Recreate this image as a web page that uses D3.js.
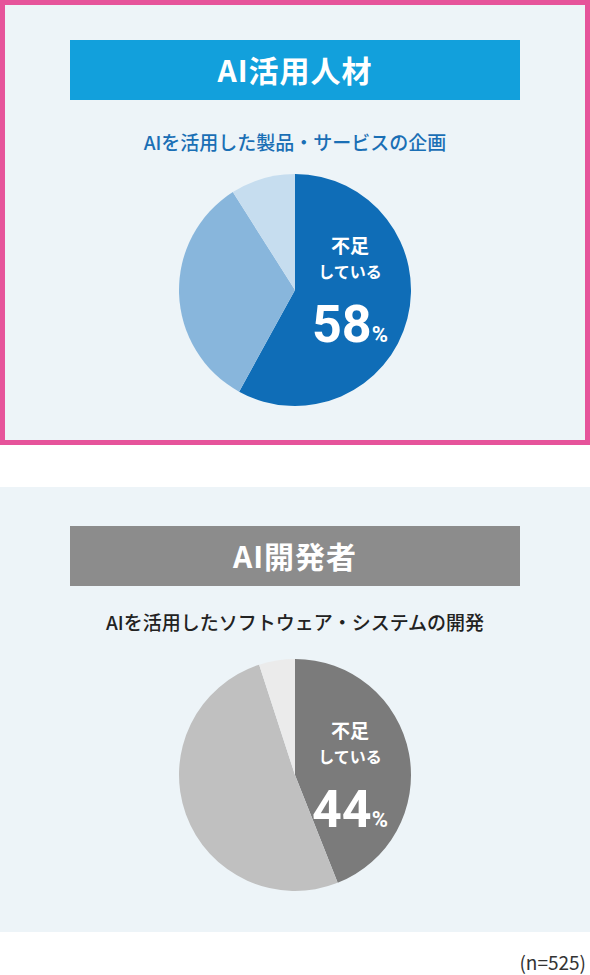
<!DOCTYPE html>
<html><head><meta charset="utf-8">
<script src="https://cdn.jsdelivr.net/npm/d3@7"></script>
<style>body{margin:0;background:#fff}</style>
</head><body>
<svg width="590" height="975"></svg>
<script>
const titles = ['AI活用人材', 'AI開発者']
const subtitles = ['AIを活用した製品・サービスの企画', 'AIを活用したソフトウェア・システムの開発']
const shares1 = [58, 33, 9]
const shares2 = [44, 51, 5]
const note = '(n=525)'

const panels = [
	{ y: 0, title: titles[0], sub: subtitles[0], values: shares1, bar: '#12a0dc', subColor: '#1a6fb5',
	  colors: ['#0f6db7', '#88b6dc', '#c6ddef'], border: '#e6549b' },
	{ y: 487, title: titles[1], sub: subtitles[1], values: shares2, bar: '#8c8c8c', subColor: '#222',
	  colors: ['#7b7b7b', '#c0c0c0', '#ebebeb'], border: null }
]

const svg = d3.select('svg')
const font = "'Noto Sans CJK JP', sans-serif"
const pie = d3.pie().sort(null).value(d => d)
const arc = d3.arc().innerRadius(0).outerRadius(116)

panels.forEach((p, i) => {
	const g = svg.append('g').attr('transform', `translate(0,${p.y})`)
	if (p.border) {
		g.append('rect').attr('x', 2.5).attr('y', 2.5).attr('width', 585).attr('height', 440)
			.attr('fill', '#edf4f8').attr('stroke', p.border).attr('stroke-width', 5)
	} else {
		g.append('rect').attr('width', 590).attr('height', 445).attr('fill', '#edf4f8')
	}
	g.append('rect').attr('x', 70).attr('y', 40 - (i ? 1 : 0)).attr('width', 450).attr('height', 60).attr('fill', p.bar)
	g.append('text').attr('x', 295).attr('y', 82 - (i ? 1 : 0)).attr('text-anchor', 'middle')
		.attr('fill', '#fff').attr('font-family', font).attr('font-weight', 700).attr('font-size', 30)
		.attr('letter-spacing', 1).text(p.title)
	g.append('text').attr('x', 295).attr('y', 150 - (i ? 7 : 0)).attr('text-anchor', 'middle')
		.attr('fill', p.subColor).attr('font-family', font).attr('font-weight', 500).attr('font-size', 19)
		.text(p.sub)

	const pg = g.append('g').attr('transform', `translate(295,${i ? 288 : 290})`)
	pg.selectAll('path').data(pie(p.values)).enter().append('path')
		.attr('d', arc).attr('fill', (d, j) => p.colors[j])

	const lab = pg.append('g').attr('fill', '#fff').attr('font-family', font).attr('font-weight', 700).attr('text-anchor', 'middle')
	lab.append('text').attr('x', 55).attr('y', -37).attr('font-size', 19).text('不足')
	lab.append('text').attr('x', 55).attr('y', -12).attr('font-size', 16).text('している')
	const t = lab.append('text').attr('x', 55).attr('y', 52).attr('font-family', 'Roboto, sans-serif')
	t.append('tspan').attr('font-size', 52).text(p.values[0])
	t.append('tspan').attr('font-size', 22).text('%')
})

svg.append('text').attr('x', 586).attr('y', 970).attr('text-anchor', 'end')
	.attr('font-family', font).attr('font-size', 19).attr('fill', '#333').text(note)
</script>
</body></html>
